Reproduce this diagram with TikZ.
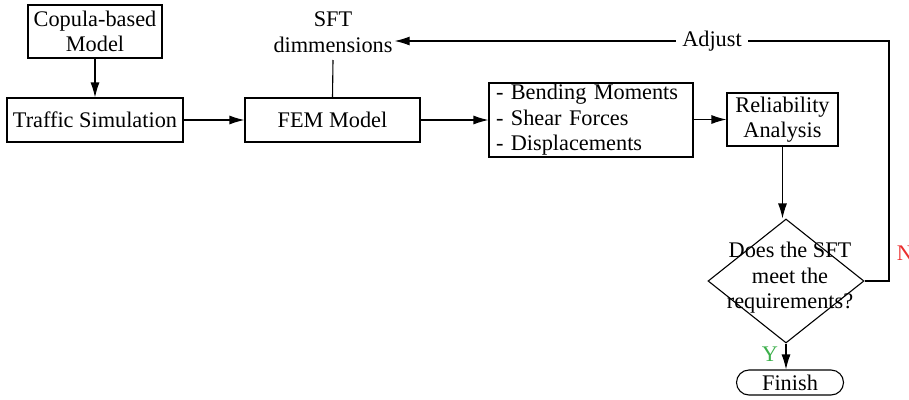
\documentclass[tikz,border=0pt]{standalone}
\usepackage{fontspec}
\setmainfont{Liberation Serif}
\usetikzlibrary{shapes.geometric,arrows.meta}
\definecolor{ygreen}{RGB}{60,175,75}
\definecolor{nred}{RGB}{235,45,45}
\begin{document}
\begin{tikzpicture}[x=1pt,y=-1pt,
  every node/.style={font=\fontsize{22.3}{25.5}\selectfont},
  box/.style={draw,line width=1.1pt,inner sep=0pt,align=center},
  conn/.style={line width=1.1pt},
  arr/.style={conn,-{Latex[length=15pt,width=9pt]}}]
\useasboundingbox (0,0) rectangle (909,399);
\node[box,minimum width=134,minimum height=53] (cop) at (95,31.5) {Copula-based\\Model};
\node[box,minimum width=176,minimum height=44] (tra) at (95,120) {Traffic Simulation};
\node[box,minimum width=175,minimum height=44] (fem) at (332.5,120) {FEM Model};
\node[align=center,inner sep=2pt] (sft) at (333,32) {SFT\\dimmensions};
\coordinate (sftb) at (333,60);
\node[box,minimum width=204,minimum height=74,align=left,text width=190] (res) at (591,120) {- Bending Moments\\- Shear Forces\\- Displacements};
\node[box,minimum width=111,minimum height=53] (rel) at (782.5,119.5) {Reliability\\Analysis};
\node[draw,diamond,line width=1.1pt,minimum width=156,minimum height=124,inner sep=0pt] (dia) at (786,281) {};
\node[align=center,inner sep=0pt] (diat) at (790,278) {Does the SFT\\meet the\\requirements?};
\node[draw,line width=1.1pt,rounded corners=12.5pt,minimum width=107,minimum height=25,inner sep=0pt] (fin) at (790,382.5) {Finish};
\coordinate (rc1) at (889,281);
\coordinate (rc2) at (889,41);
\node[text=ygreen,inner sep=0pt] (y) at (770,354) {Y};
\node[text=nred,inner sep=0pt] (n) at (905,253) {N};
\draw[arr] (cop) -- (tra);
\draw[arr] (tra) -- (fem);
\draw[conn] (fem.north) -- (sftb);
\draw[arr] (fem) -- (res);
\draw[arr] (res.east |- rel.west) -- (rel.west);
\draw[arr] (rel.south) -- (rel.south |- dia.north);
\draw[arr] (dia.south) -- (dia.south |- fin.north);
\draw[arr] (dia.east) -- (rc1) -- (rc2) -- (sft.east |- rc2);
\node[fill=white,inner sep=6pt] (adj) at (712,41) {Adjust};
\end{tikzpicture}
\end{document}
